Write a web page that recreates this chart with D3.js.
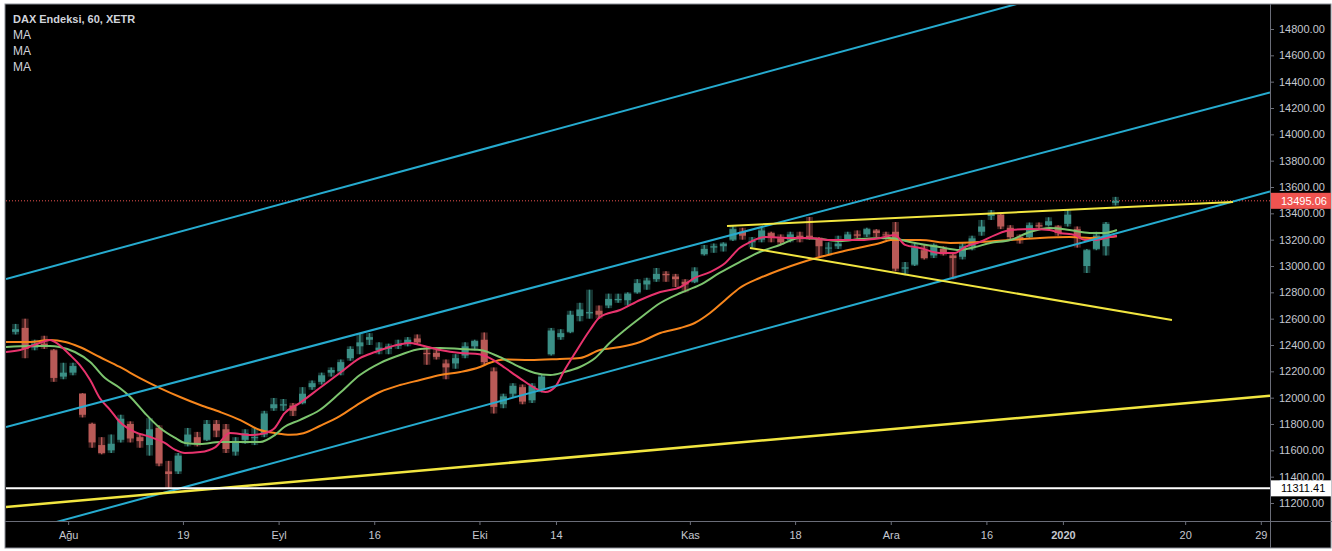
<!DOCTYPE html>
<html>
<head>
<meta charset="utf-8">
<script src="https://cdn.jsdelivr.net/npm/d3@7"></script>
<style>
html, body { margin: 0; padding: 0; background: #fff; }
svg { display: block; font-family: "Liberation Sans", Arial, sans-serif; }
</style>
</head>
<body>
<div class="box"></div>
<script>
// ---- data (DAX hourly chart, read per trading day) ----
const holidays = ['2019-10-03', '2019-12-24', '2019-12-25', '2019-12-26', '2019-12-31', '2020-01-01'];

const opens  = [12500,12530,12380,12410,12360,12160,12190,12030,11800,11640,11600,11680,11800,11700,11640,11770,11440,11440,11660,11700,
                11680,11800,11760,11590,11680,11700,11720,11920,11940,11940,11960,12080,12120,12190,12200,12300,12390,12440,12360,12370,
                12400,12410,12450,12340,12340,12260,12260,12320,12390,12440,12200,11950,12030,12080,11980,12060,12330,12460,12500,12620,
                12640,12660,12700,12740,12740,12800,12860,12900,12940,12920,12880,12880,13090,13140,13150,13200,13260,13180,13200,13250,
                13210,13200,13230,13230,13200,13140,13150,13200,13240,13240,13270,13240,13260,12980,13010,13120,13080,13130,13080,13070,
                13150,13260,13380,13390,13290,13220,13220,13310,13310,13300,13320,13280,13000,13130,13150,13480];
const highs  = [12560,12600,12440,12470,12370,12265,12265,12035,11810,11700,11720,11870,11820,11730,11845,11790,11520,11580,11770,11740,
                11830,11830,11800,11700,11760,11770,11900,11998,11990,11960,12080,12130,12190,12230,12290,12390,12490,12490,12420,12410,
                12440,12460,12480,12390,12380,12290,12330,12420,12440,12495,12230,12030,12110,12100,12110,12180,12530,12520,12660,12720,
                12820,12700,12790,12790,12800,12900,12910,12985,12960,12940,12900,12990,13160,13170,13180,13310,13290,13220,13290,13260,
                13240,13260,13260,13372,13220,13180,13230,13260,13270,13290,13280,13260,13334,13030,13170,13160,13170,13150,13100,13180,
                13230,13350,13425,13410,13310,13240,13330,13330,13370,13310,13425,13300,13130,13260,13334,13525];
const lows   = [12480,12300,12360,12370,12120,12140,12170,11850,11620,11570,11580,11660,11660,11620,11560,11480,11311,11420,11630,11630,
                11670,11700,11580,11560,11650,11640,11700,11900,11900,11860,11950,12060,12100,12160,12170,12280,12330,12400,12330,12330,
                12370,12390,12400,12250,12290,12140,12220,12300,12360,12250,11880,11920,12000,11950,11960,12040,12320,12440,12490,12580,
                12600,12600,12680,12720,12700,12790,12820,12880,12880,12840,12800,12870,13080,13100,13110,13190,13200,13140,13180,13180,
                13160,13180,13180,13200,13070,13090,13130,13190,13210,13220,13220,13200,12960,12930,13000,13050,13060,13080,12900,13050,
                13120,13230,13350,13280,13200,13170,13210,13280,13300,13230,13300,13140,12947,13120,13080,13460];
const closes = [12520,12370,12410,12390,12150,12190,12240,11870,11660,11580,11650,11840,11690,11670,11760,11500,11420,11560,11720,11650,
                11800,11750,11610,11660,11730,11700,11880,11950,11950,11900,12030,12110,12170,12210,12270,12370,12420,12460,12380,12390,
                12400,12440,12420,12330,12310,12230,12300,12390,12430,12270,11930,12010,12090,11970,12090,12160,12510,12490,12630,12670,
                12650,12630,12750,12750,12790,12870,12890,12940,12930,12900,12860,12960,13130,13150,13170,13280,13230,13190,13270,13220,
                13180,13240,13210,13220,13150,13140,13170,13240,13230,13280,13250,13236,12980,12990,13140,13060,13160,13100,13060,13150,
                13210,13300,13400,13300,13220,13200,13310,13300,13340,13250,13390,13220,13120,13230,13320,13495.06];

// moving averages: [trading-day index from 1 Aug, value]
const maFast = [[-6.5,12347],[-5,12362],[-3,12415],[-1.9,12438],[-1.4,12423],[0.2,12324],[1.2,12249],[2.3,12134],[3.3,11997],[4.4,11906],
                [5.4,11815],[7,11739],[8.6,11701],[10.1,11656],[11.2,11603],[12.2,11580],[13.8,11587],[15.4,11625],[16.9,11732],[19,11716],
                [20.6,11732],[21.6,11770],[22.6,11880],[24.2,11959],[26.3,12073],[28.4,12187],[30.5,12301],[32.1,12347],[33.6,12385],[35.7,12415],
                [36.8,12400],[38.9,12362],[41,12339],[43,12330],[44.6,12280],[45.7,12225],[47.2,12149],[48.8,12073],[49.9,12043],[50.9,12081],
                [51.9,12210],[53,12339],[54.55,12514],[55.6,12613],[57.7,12666],[59.8,12742],[61.9,12803],[64,12840],[65.5,12909],[67.1,12954],
                [68.7,13023],[70.2,13137],[71.3,13182],[72.85,13220],[75.45,13213],[77.5,13213],[79.6,13197],[82.8,13197],[84.9,13213],[86.4,13235],
                [87.5,13160],[89.05,13137],[91.1,13099],[92.7,13099],[93.75,13144],[95.3,13182],[96.9,13235],[98.5,13273],[100.55,13281],[102.6,13273],
                [103.7,13251],[105.25,13235],[106.3,13197],[107.35,13197],[108.9,13220],[109.65,13230]];
const maMid  = [[-6.5,12385],[-3.9,12392],[-1.9,12392],[-0.9,12385],[0.7,12347],[2.3,12271],[3.85,12149],[5.4,12073],[6.5,12005],[8,11884],
                [9.6,11770],[11.2,11694],[12.2,11656],[13.8,11648],[15.9,11663],[18,11663],[20.05,11663],[21.6,11716],[22.6,11777],[24.2,11830],
                [26.3,11906],[28.4,12035],[30.5,12172],[32.6,12263],[34.7,12324],[36.8,12370],[38.9,12377],[41,12370],[43.05,12362],[45.1,12309],
                [47.2,12233],[48.8,12187],[50.4,12172],[51.9,12195],[53.5,12233],[55.1,12301],[56.6,12415],[58.2,12514],[59.8,12605],[61.9,12719],
                [64,12795],[66.05,12856],[68.1,12947],[70.2,13030],[72.3,13106],[74.4,13160],[76.5,13213],[78.6,13205],[80.7,13190],[82.8,13205],
                [85.9,13213],[88,13182],[91.1,13144],[93.2,13122],[94.8,13144],[96.4,13175],[98.5,13197],[100.55,13258],[102.6,13289],[104.7,13273],
                [106.8,13251],[108.4,13251],[109.65,13273]];
const maSlow = [[-6.5,12423],[-4,12423],[-1.9,12438],[-0.3,12423],[1.2,12385],[3.3,12309],[5.4,12233],[7.5,12149],[9.6,12073],[11.7,12005],
                [13.8,11944],[15.9,11891],[18,11830],[20.05,11754],[21.6,11732],[23.2,11718],[24.6,11730],[26.3,11785],[28.4,11860],[30.5,11959],
                [32.6,12043],[34.7,12096],[36.8,12134],[38.9,12172],[41,12195],[43.05,12233],[44.1,12265],[45.7,12290],[48.3,12286],[51.4,12294],
                [53.5,12301],[55.6,12362],[57.7,12385],[59.8,12423],[61.9,12491],[64,12529],[65.5,12567],[67.1,12643],[68.7,12742],[70.2,12833],
                [72.3,12909],[74.4,12970],[76.5,13023],[78.6,13068],[80.7,13106],[82.8,13140],[84.9,13175],[86,13197],[89.05,13197],[92.2,13175],
                [95.3,13182],[98.5,13197],[101.6,13213],[104.7,13220],[106.8,13213],[108.9,13220],[109.65,13225]];

// drawn trend lines: anchors [day, price]
const cyanLines   = [[[-6.5,12901],[98.78,14982]], [[-6.5,11777],[125.44,14314]], [[-0.857,11063],[125.44,13562]]];
const yellowLong  = [[-6.5,11169],[125.44,12013]];
const yellowTop   = [[68.88,13304],[121.78,13486]];
const yellowLower = [[71.28,13137],[115.4,12590]];
const lastPrice = 13495.06;
const supportLevel = 11311.41;

const priceTicks = d3.range(11200, 14801, 200);
const timeTicks = [['Ağu','2019-08-01'],['19','2019-08-19'],['Eyl','2019-09-02'],['16','2019-09-16'],['Eki','2019-10-01'],
                   ['14','2019-10-14'],['Kas','2019-11-01'],['18','2019-11-18'],['Ara','2019-12-02'],['16','2019-12-16'],
                   ['2020','2020-01-02'],['20','2020-01-20'],['29','2020-01-29']];

// ---- trading calendar ----
const fmt = d3.utcFormat('%Y-%m-%d');
const calendar = d3.utcDay.range(new Date(Date.UTC(2019, 6, 24)), new Date(Date.UTC(2020, 1, 1)))
                   .filter(d => d.getUTCDay() > 0 && d.getUTCDay() < 6 && !holidays.includes(fmt(d)))
                   .map(fmt);
const base = calendar.indexOf('2019-08-01');
const lastIdx = closes.length - base;   // end of data
function dayIndex(s) {
  const k = calendar.indexOf(s) - base;
  return k > lastIdx ? lastIdx + (k - lastIdx) * 1.13 : k;   // future bars are spaced wider
}
const candles = closes.map((c, i) => ({t: i - base, o: opens[i], h: highs[i], l: lows[i], c: c}));

// ---- layout ----
const W = 1332, H = 551;
const plot = {left: 6, right: 1270, top: 5, bottom: 521};

const svg = d3.select('.box').append('svg').attr('width', W).attr('height', H);

svg.append('rect').attr('x', 5).attr('y', 4).attr('width', W - 6).attr('height', 544)
   .attr('fill', '#000').attr('stroke', '#8a8d96').attr('stroke-width', 1);

const x = d3.scaleLinear().domain([-6.5, 125.65]).range([plot.left, plot.right]);
const y = d3.scaleLinear().domain([11200, 14800]).range([503, 29]);

svg.append('clipPath').attr('id', 'clip').append('rect')
   .attr('x', plot.left).attr('y', plot.top)
   .attr('width', plot.right - plot.left).attr('height', plot.bottom - plot.top);

const graph = svg.append('g').attr('clip-path', 'url(#clip)');

// last price dotted line
graph.append('line')
     .attr('x1', plot.left).attr('x2', plot.right)
     .attr('y1', y(lastPrice)).attr('y2', y(lastPrice))
     .attr('stroke', '#ef5350').attr('stroke-width', 1).attr('stroke-dasharray', '1,2');

// candles
const upCol = '#3b8f86', downCol = '#b95a57';
const bw = 7;
const c = graph.selectAll('g.candle').data(candles).enter().append('g');
c.append('rect')   // faint high-low range, like the packed hourly wicks
 .attr('x', d => x(d.t + 0.5) - bw / 2).attr('width', bw)
 .attr('y', d => y(d.h)).attr('height', d => y(d.l) - y(d.h))
 .attr('fill', d => d.c >= d.o ? upCol : downCol).attr('opacity', 0.35);
c.append('line')
 .attr('x1', d => x(d.t + 0.5)).attr('x2', d => x(d.t + 0.5))
 .attr('y1', d => y(d.h)).attr('y2', d => y(d.l))
 .attr('stroke', d => d.c >= d.o ? upCol : downCol).attr('stroke-width', 1.5);
c.append('rect')
 .attr('x', d => x(d.t + 0.5) - bw / 2).attr('width', bw)
 .attr('y', d => y(Math.max(d.o, d.c)))
 .attr('height', d => Math.max(1, Math.abs(y(d.o) - y(d.c))))
 .attr('fill', d => d.c >= d.o ? upCol : downCol);

// moving averages
const maLine = d3.line().x(d => x(d[0])).y(d => y(d[1])).curve(d3.curveMonotoneX);
[[maSlow, '#f7861c'], [maMid, '#7cc46e'], [maFast, '#e8336d']].forEach(([data, col]) => {
  graph.append('path').attr('d', maLine(data))
       .attr('fill', 'none').attr('stroke', col).attr('stroke-width', 2);
});

// trend lines
function extend(a) {
  const k = (a[1][1] - a[0][1]) / (a[1][0] - a[0][0]);
  const [t0, t1] = x.domain();
  return [[t0, a[0][1] + k * (t0 - a[0][0])], [t1, a[0][1] + k * (t1 - a[0][0])]];
}
const seg = d3.line().x(d => x(d[0])).y(d => y(d[1]));
cyanLines.forEach(l => {
  graph.append('path').attr('d', seg(extend(l))).attr('stroke', '#26abcf').attr('stroke-width', 2).attr('fill', 'none');
});
graph.append('path').attr('d', seg(extend(yellowLong))).attr('stroke', '#f2e640').attr('stroke-width', 2.5).attr('fill', 'none');
[yellowTop, yellowLower].forEach(l => {
  graph.append('path').attr('d', seg(l)).attr('stroke', '#f2e640').attr('stroke-width', 2).attr('fill', 'none');
});
graph.append('line')
     .attr('x1', plot.left).attr('x2', plot.right)
     .attr('y1', y(supportLevel)).attr('y2', y(supportLevel))
     .attr('stroke', '#ffffff').attr('stroke-width', 2);

// axes
const textCol = '#c5c8d0', lineCol = '#6a6d78';
const axisY = d3.axisRight(y).tickValues(priceTicks).tickFormat(d3.format('.2f')).tickSize(4).tickPadding(5);
const groupeY = svg.append('g').attr('transform', `translate(${plot.right}, 0)`).call(axisY);
groupeY.select('.domain').remove();
groupeY.selectAll('line').attr('stroke', lineCol);
groupeY.selectAll('text').attr('fill', textCol).style('font-size', '11px');

const axisX = d3.axisBottom(x)
                .tickValues(timeTicks.map(t => dayIndex(t[1])))
                .tickFormat((d, i) => timeTicks[i][0]).tickSize(4).tickPadding(6);
const groupeX = svg.append('g').attr('transform', `translate(0, ${plot.bottom})`).call(axisX);
groupeX.select('.domain').remove();
groupeX.selectAll('line').attr('stroke', lineCol);
groupeX.selectAll('text').attr('fill', textCol).style('font-size', '11px')
       .style('font-weight', (d, i) => timeTicks[i][0] === '2020' ? 'bold' : 'normal');

svg.append('line').attr('x1', 5).attr('x2', W).attr('y1', plot.bottom + 0.5).attr('y2', plot.bottom + 0.5)
   .attr('stroke', lineCol);
svg.append('line').attr('x1', plot.right + 0.5).attr('x2', plot.right + 0.5).attr('y1', 4).attr('y2', 548)
   .attr('stroke', lineCol);

// price labels on the axis
function priceTag(v, bg, fg) {
  const g = svg.append('g').attr('transform', `translate(${plot.right + 1}, ${y(v)})`);
  g.append('rect').attr('x', 0).attr('y', -8).attr('width', 60).attr('height', 16).attr('fill', bg);
  g.append('text').attr('x', 10).attr('y', 4).attr('fill', fg).style('font-size', '11px')
   .text(d3.format('.2f')(v));
}
priceTag(lastPrice, '#ef5350', '#ffffff');
priceTag(supportLevel, '#ffffff', '#000000');

// legend
const legend = svg.append('g').attr('transform', 'translate(13, 23)').attr('fill', '#d1d4dc');
legend.append('text').text('DAX Endeksi, 60, XETR').style('font-size', '11px').style('font-weight', 'bold');
['MA', 'MA', 'MA'].forEach((t, i) => {
  legend.append('text').attr('y', 16 * (i + 1)).text(t).style('font-size', '12px');
});
</script>
</body>
</html>
